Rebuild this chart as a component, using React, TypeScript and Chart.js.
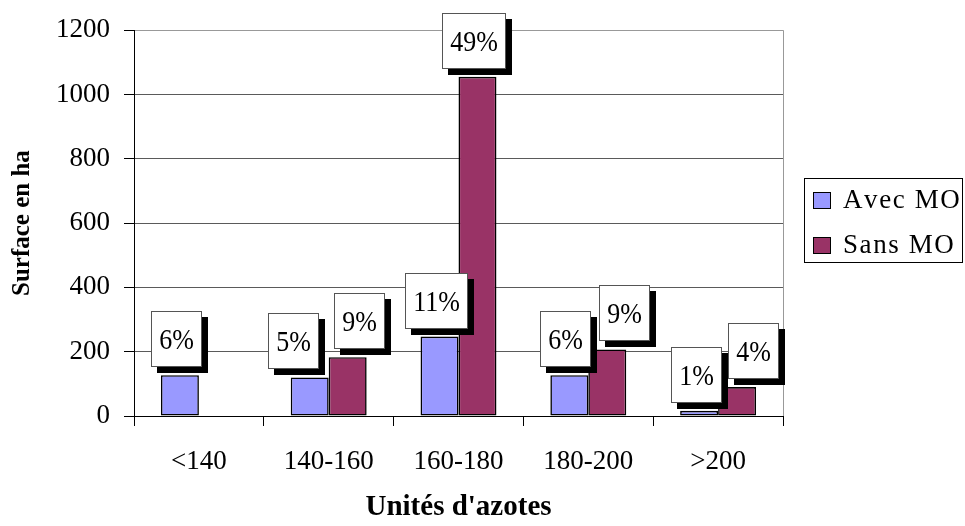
import React, { useEffect, useRef } from 'react';
import { Chart, registerables } from 'chart.js';

Chart.register(...registerables);

// Surface (ha) by nitrogen-unit class, with and without organic matter
const categories = ['<140', '140-160', '160-180', '180-200', '>200'];
const avecMO: (number | null)[] = [127, 120, 247, 127, 16];
const sansMO: (number | null)[] = [null, 183, 1055, 207, 90];

// Share of total surface shown above each bar
const avecShare = ['6%', '5%', '11%', '6%', '1%'];
const sansShare = ['', '9%', '49%', '9%', '4%'];

const yMin = 0;
const yMax = 1200;
const yStep = 200;

// Small horizontal nudges so neighbouring boxes don't collide
const avecNudge = [0, -13, 0, -1, 0];
const sansNudge = [0, 15, 0, 20, 19];

const SERIF = '"Liberation Serif", "Times New Roman", Times, serif';
const AVEC_COLOR = '#9999FF';
const SANS_COLOR = '#993366';

const plotFrame = {
  id: 'plotFrame',
  beforeDatasetsDraw(chart: any) {
    const { ctx, chartArea } = chart;
    ctx.save();
    ctx.strokeStyle = '#999';
    ctx.lineWidth = 1;
    ctx.beginPath();
    const x = Math.round(chartArea.right) + 0.5;
    ctx.moveTo(x, chartArea.top);
    ctx.lineTo(x, chartArea.bottom);
    ctx.stroke();
    ctx.restore();
  },
};

const shareBoxes = {
  id: 'shareBoxes',
  afterDatasetsDraw(chart: any) {
    const ctx = chart.ctx;
    ctx.save();
    ctx.font = `26px ${SERIF}`;
    chart.data.datasets.forEach((ds: any, di: number) => {
      const meta = chart.getDatasetMeta(di);
      const labels = di === 0 ? avecShare : sansShare;
      const nudge = di === 0 ? avecNudge : sansNudge;
      meta.data.forEach((bar: any, j: number) => {
        const text = labels[j];
        if (!text || ds.data[j] == null) return;
        const w = Math.round(ctx.measureText(text).width + 16);
        const h = 56;
        const cx = bar.x - 3 + nudge[j];
        const left = Math.round(cx - w / 2);
        const bottom = Math.round(bar.y - 8);
        const top = bottom - h;
        ctx.fillStyle = '#000';
        ctx.fillRect(left + 6, top + 6, w, h);
        ctx.fillStyle = '#fff';
        ctx.fillRect(left, top, w, h);
        ctx.strokeStyle = '#555';
        ctx.lineWidth = 1;
        ctx.strokeRect(left + 0.5, top + 0.5, w - 1, h - 1);
        ctx.fillStyle = '#000';
        ctx.textAlign = 'center';
        ctx.textBaseline = 'middle';
        ctx.save();
        ctx.translate(left + w / 2, top + h / 2 + 2);
        ctx.scale(1, 1.1);
        ctx.fillText(text, 0, 0);
        ctx.restore();
      });
    });
    ctx.restore();
  },
};

const boxedLegend = {
  id: 'boxedLegend',
  afterDraw(chart: any) {
    const ctx = chart.ctx;
    const left = chart.chartArea.right + 21;
    const top = 178;
    const w = 159;
    const h = 85;
    ctx.save();
    ctx.fillStyle = '#fff';
    ctx.fillRect(left, top, w, h);
    ctx.strokeStyle = '#000';
    ctx.lineWidth = 1;
    ctx.strokeRect(left + 0.5, top + 0.5, w - 1, h - 1);
    ctx.font = `27px ${SERIF}`;
    ctx.textAlign = 'left';
    ctx.textBaseline = 'middle';
    chart.data.datasets.forEach((ds: any, i: number) => {
      const cy = top + 22 + i * 45;
      ctx.fillStyle = ds.backgroundColor;
      ctx.fillRect(left + 9, cy - 8, 18, 17);
      ctx.strokeStyle = '#000';
      ctx.strokeRect(left + 9.5, cy - 7.5, 17, 16);
      ctx.fillStyle = '#000';
      const label: string = ds.label;
      // spread the glyphs slightly, as the legend text runs wide
      let x = left + 39;
      for (const ch of label) {
        ctx.fillText(ch, x, cy + 1);
        x += ctx.measureText(ch).width + 1.6;
      }
    });
    ctx.restore();
  },
};

export default function App() {
  const canvasRef = useRef<HTMLCanvasElement | null>(null);

  useEffect(() => {
    if (!canvasRef.current) return;
    const barStyle = {
      borderColor: '#000',
      borderWidth: 1.6,
      borderSkipped: false,
      categoryPercentage: 0.585,
      barPercentage: 1,
    };
    const chart = new Chart(canvasRef.current, {
      type: 'bar',
      data: {
        labels: categories,
        datasets: [
          { label: 'Avec MO', data: avecMO, backgroundColor: AVEC_COLOR, ...barStyle },
          { label: 'Sans MO', data: sansMO, backgroundColor: SANS_COLOR, ...barStyle },
        ],
      },
      options: {
        animation: false,
        responsive: false,
        devicePixelRatio: 1,
        layout: { padding: { top: 27, right: 182, left: 0, bottom: 0 } },
        plugins: {
          legend: { display: false },
          tooltip: { enabled: false },
        },
        scales: {
          x: {
            offset: true,
            grid: {
              offset: true,
              drawOnChartArea: false,
              drawTicks: true,
              tickLength: 10,
              tickColor: '#000',
            },
            border: { color: '#000', width: 1 },
            ticks: {
              color: '#000',
              font: { family: SERIF, size: 27 },
              padding: 20,
              maxRotation: 0,
            },
            title: {
              display: true,
              text: "Unités d'azotes",
              color: '#000',
              font: { family: SERIF, size: 29, weight: 'bold' },
              padding: { top: 0, bottom: 1 },
            },
            afterFit: (s: any) => {
              s.height = 110;
            },
          },
          y: {
            min: yMin,
            max: yMax,
            ticks: {
              stepSize: yStep,
              color: '#000',
              font: { family: SERIF, size: 27 },
              padding: 14,
              callback: (v: any) => String(v),
            },
            grid: {
              color: (c: any) =>
                c.tick && c.tick.value === yMax ? '#999' : c.tick && c.tick.value === 0 ? '#000' : '#5a5a5a',
              tickColor: '#000',
              tickLength: 10,
            },
            border: { color: '#000', width: 1 },
            title: {
              display: true,
              text: 'Surface en ha',
              color: '#000',
              font: { family: SERIF, size: 25, weight: 'bold' },
              padding: { top: 8, bottom: 0 },
            },
            afterFit: (s: any) => {
              s.width = 134;
            },
          },
        },
      } as any,
      plugins: [plotFrame, shareBoxes, boxedLegend],
    });
    return () => chart.destroy();
  }, []);

  return (
    <div style={{ position: 'absolute', left: 0, top: 0, width: 965, height: 526, background: '#fff' }}>
      <canvas ref={canvasRef} width={965} height={526} />
    </div>
  );
}
